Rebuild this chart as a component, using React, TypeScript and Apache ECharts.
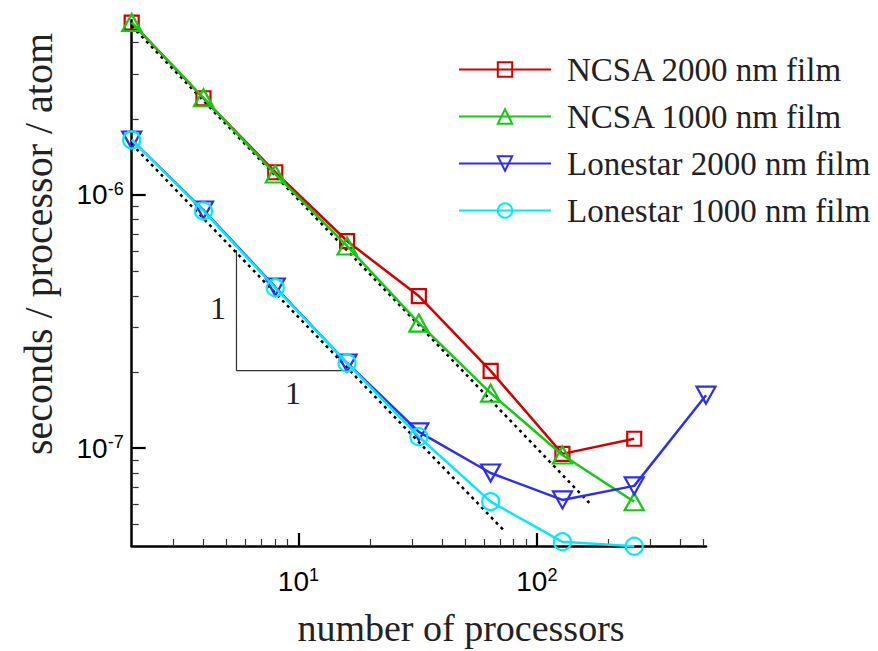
import React, { useEffect, useRef } from "react";
import * as echarts from "echarts";

const processors = [2, 4, 8, 16, 32, 64, 128, 256];
const processorsLonestar2000 = [2, 4, 8, 16, 32, 64, 128, 256, 512];
const ncsa2000 = [4.79e-6, 2.41e-6, 1.23e-6, 6.58e-7, 3.99e-7, 2.02e-7, 9.5e-8, 1.09e-7];
const ncsa1000 = [4.8e-6, 2.42e-6, 1.21e-6, 6.29e-7, 3.12e-7, 1.65e-7, 9.4e-8, 6.15e-8];
const lonestar2000 = [1.65e-6, 8.72e-7, 4.33e-7, 2.17e-7, 1.16e-7, 7.98e-8, 6.25e-8, 7.1e-8, 1.62e-7];
const lonestar1000 = [1.65e-6, 8.65e-7, 4.3e-7, 2.17e-7, 1.11e-7, 6.15e-8, 4.27e-8, 4.1e-8];
const refUpper = [[2, 4.65e-6], [166, 6.08e-8]];
const refLower = [[2, 1.59e-6], [72.8, 4.73e-8]];
const slopeTriangle = [[5.5, 6.07e-7], [5.5, 2.025e-7], [15.87, 2.025e-7]];
const seriesNames = ["NCSA 2000 nm film", "NCSA 1000 nm film", "Lonestar 2000 nm film", "Lonestar 1000 nm film"];
const xMajorTicks = [10, 100];
const xMinorTicks = [3, 4, 5, 6, 7, 8, 9, 20, 30, 40, 50, 60, 70, 80, 90, 200, 300, 400, 500];
const yMajorTicks = [1e-7, 1e-6];
const yMinorTicks = [5e-8, 6e-8, 7e-8, 8e-8, 9e-8, 2e-7, 3e-7, 4e-7, 5e-7, 6e-7, 7e-7, 8e-7, 9e-7, 2e-6, 3e-6, 4e-6];
const xRange = [2, 512];
const yRange = [4.11e-8, 4.91e-6];

const COLORS = ["#d40000", "#14c814", "#2e2ef0", "#00eaff"];

function zip(xs: number[], ys: number[]) {
  return ys.map((y, i) => [xs[i], y]);
}

function powLabel(v: number) {
  const e = Math.round(Math.log10(v));
  return `{b|10}{s|${e}}`;
}

const labelRich = {
  b: { fontSize: 28, fontFamily: "Liberation Sans", color: "#000", lineHeight: 30 },
  s: { fontSize: 18, fontFamily: "Liberation Sans", color: "#000", verticalAlign: "top", lineHeight: 30, padding: [0, 0, 14, 0] },
};

export default function App() {
  const ref = useRef<HTMLDivElement>(null);
  useEffect(() => {
    if (!ref.current) return;
    const chart = echarts.init(ref.current, undefined, { renderer: "svg" });
    const serif = "Liberation Serif";
    const mk = (i: number, xs: number[], ys: number[], symbol: string, size: any, rotate = 0) => ({
      name: seriesNames[i],
      type: "line",
      xAxisIndex: 0,
      yAxisIndex: 0,
      data: zip(xs, ys),
      symbol,
      symbolSize: size,
      symbolRotate: rotate,
      showAllSymbol: true,
      clip: false,
      z: 10 + i,
      lineStyle: { color: COLORS[i], width: 2.5 },
      itemStyle: { color: "transparent", borderColor: COLORS[i], borderWidth: 2.2 },
    });
    const option: any = {
      animation: false,
      backgroundColor: "#fff",
      grid: { left: 131.7, top: 20, width: 574.3, height: 526, containLabel: false },
      xAxis: [
        {
          type: "log",
          min: xRange[0],
          max: xRange[1],
          axisLine: { lineStyle: { color: "#000", width: 2.5 } },
          axisTick: { inside: true, length: 13, customValues: xMajorTicks, lineStyle: { color: "#000", width: 2.2 } },
          axisLabel: { customValues: xMajorTicks, formatter: powLabel, rich: labelRich, margin: 20 },
          splitLine: { show: false },
          minorTick: { show: false },
        },
        {
          type: "log",
          min: xRange[0],
          max: xRange[1],
          position: "bottom",
          axisLine: { show: false },
          axisTick: { inside: true, length: 7, customValues: xMinorTicks, lineStyle: { color: "#333", width: 1.2 } },
          axisLabel: { show: false },
          splitLine: { show: false },
        },
      ],
      yAxis: [
        {
          type: "log",
          min: yRange[0],
          max: yRange[1],
          axisLine: { show: true, lineStyle: { color: "#000", width: 2.5 } },
          axisTick: { show: true, inside: true, length: 14, customValues: yMajorTicks, lineStyle: { color: "#000", width: 2.2 } },
          axisLabel: { customValues: yMajorTicks, formatter: powLabel, rich: labelRich, margin: 8 },
          splitLine: { show: false },
        },
        {
          type: "log",
          min: yRange[0],
          max: yRange[1],
          position: "left",
          axisLine: { show: false },
          axisTick: { show: true, inside: true, length: 7, customValues: yMinorTicks, lineStyle: { color: "#333", width: 1.2 } },
          axisLabel: { show: false },
          splitLine: { show: false },
        },
      ],
      legend: {
        orient: "vertical",
        left: 458,
        top: 53,
        padding: 0,
        itemWidth: 92,
        itemHeight: 18,
        itemGap: 14,
        data: seriesNames,
        textStyle: { fontFamily: serif, fontSize: 33, color: "#222", lineHeight: 30, padding: [0, 0, 0, 11] },
      },
      graphic: [
        {
          type: "text",
          x: 461,
          y: 628,
          style: { text: "number of processors", fontFamily: serif, fontSize: 38, fill: "#222", textAlign: "center", textVerticalAlign: "middle" },
        },
        {
          type: "text",
          x: 38,
          y: 244,
          rotation: Math.PI / 2,
          style: { text: "seconds / processor / atom", fontFamily: serif, fontSize: 40, fill: "#222", textAlign: "center", textVerticalAlign: "middle" },
        },
        {
          type: "text",
          x: 218,
          y: 308,
          style: { text: "1", fontFamily: serif, fontSize: 32, fill: "#222", textAlign: "center", textVerticalAlign: "middle" },
        },
        {
          type: "text",
          x: 293,
          y: 393,
          style: { text: "1", fontFamily: serif, fontSize: 32, fill: "#222", textAlign: "center", textVerticalAlign: "middle" },
        },
      ],
      series: [
        {
          type: "line",
          data: refUpper,
          symbol: "none",
          silent: true,
          z: 5,
          lineStyle: { color: "#000", width: 2.5, type: [3, 4] },
        },
        {
          type: "line",
          data: refLower,
          symbol: "none",
          silent: true,
          z: 5,
          lineStyle: { color: "#000", width: 2.5, type: [3, 4] },
        },
        {
          type: "line",
          data: slopeTriangle,
          symbol: "none",
          silent: true,
          z: 4,
          lineStyle: { color: "#333", width: 1.2 },
        },
        mk(0, processors, ncsa2000, "rect", 14),
        mk(1, processors, ncsa1000, "triangle", [19, 17]),
        mk(2, processorsLonestar2000, lonestar2000, "triangle", [19, 17], 180),
        mk(3, processors, lonestar1000, "circle", 17),
      ],
    };
    chart.setOption(option);
    return () => chart.dispose();
  }, []);
  return <div ref={ref} style={{ width: 878, height: 651, marginLeft: -8, marginTop: -8 }} />;
}
